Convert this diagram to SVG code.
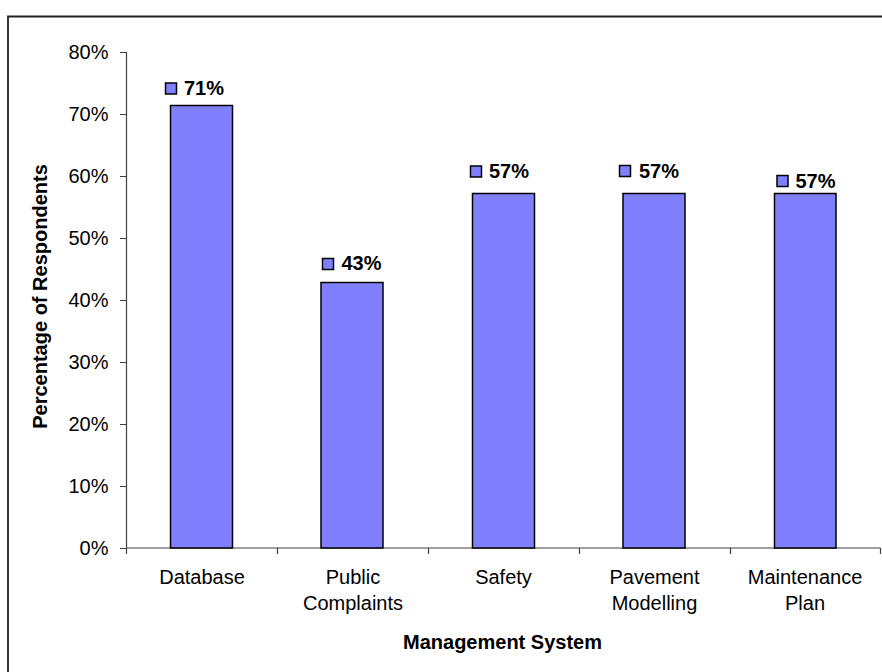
<svg xmlns="http://www.w3.org/2000/svg" width="882" height="672" viewBox="0 0 882 672">
<style>
text{font-family:"Liberation Sans",Arial,sans-serif;fill:#000}
.tick{font-size:20px;text-anchor:end}
.cat{font-size:20px;text-anchor:middle}
.val{font-size:20px;font-weight:bold}
.title{font-size:20px;font-weight:bold;text-anchor:middle}
.bar{fill:#8080FF;stroke:#000;stroke-width:1.5}
.key{fill:#8080FF;stroke:#000;stroke-width:1.5}
.axis{stroke:#404040;stroke-width:1.2;fill:none}
</style>
<rect x="0" y="0" width="882" height="672" fill="#fff"/>
<path d="M8 680 V16.5 H890" fill="none" stroke="#222" stroke-width="1.8"/>
<g id="axes">
<path class="axis" d="M126.5 52 V548 H880.5"/>
<path class="axis" d="M120 52.5H126.5M120 114.5H126.5M120 176.5H126.5M120 238.5H126.5M120 300.5H126.5M120 362.5H126.5M120 424.5H126.5M120 486.5H126.5M120 548.5H126.5"/>
<path class="axis" d="M126.5 548V554M277.5 548V554M428.5 548V554M579.5 548V554M730.5 548V554M880.5 548V554"/>
<text class="tick" x="108.5" y="59">80%</text>
<text class="tick" x="108.5" y="121">70%</text>
<text class="tick" x="108.5" y="183">60%</text>
<text class="tick" x="108.5" y="245">50%</text>
<text class="tick" x="108.5" y="307">40%</text>
<text class="tick" x="108.5" y="369">30%</text>
<text class="tick" x="108.5" y="431">20%</text>
<text class="tick" x="108.5" y="493">10%</text>
<text class="tick" x="108.5" y="555">0%</text>
</g>
<g id="bar-database">
<rect class="bar" x="170.5" y="105.5" width="62" height="442.5"/>
<rect class="key" x="165.5" y="83" width="11" height="11"/>
<text class="val" x="184" y="95">71%</text>
<text class="cat" x="202" y="584">Database</text>
</g>
<g id="bar-public-complaints">
<rect class="bar" x="321" y="282.5" width="62" height="265.5"/>
<rect class="key" x="322.5" y="258.5" width="11" height="11"/>
<text class="val" x="341.5" y="270">43%</text>
<text class="cat" x="353" y="584">Public</text>
<text class="cat" x="353" y="610">Complaints</text>
</g>
<g id="bar-safety">
<rect class="bar" x="472.5" y="193.5" width="62" height="354.5"/>
<rect class="key" x="470.5" y="166" width="11" height="11"/>
<text class="val" x="489" y="178">57%</text>
<text class="cat" x="503.5" y="584">Safety</text>
</g>
<g id="bar-pavement-modelling">
<rect class="bar" x="623" y="193.5" width="62" height="354.5"/>
<rect class="key" x="619.5" y="165.5" width="11" height="11"/>
<text class="val" x="639" y="178">57%</text>
<text class="cat" x="654.5" y="584">Pavement</text>
<text class="cat" x="654.5" y="610">Modelling</text>
</g>
<g id="bar-maintenance-plan">
<rect class="bar" x="774.5" y="193.5" width="61.5" height="354.5"/>
<rect class="key" x="777" y="175.5" width="11" height="11"/>
<text class="val" x="795.5" y="187.5">57%</text>
<text class="cat" x="805" y="584">Maintenance</text>
<text class="cat" x="805" y="610">Plan</text>
</g>
<g id="titles">
<text class="title" x="502.5" y="649">Management System</text>
<text class="title" transform="translate(46.5 296.5) rotate(-90)">Percentage of Respondents</text>
</g>
</svg>
